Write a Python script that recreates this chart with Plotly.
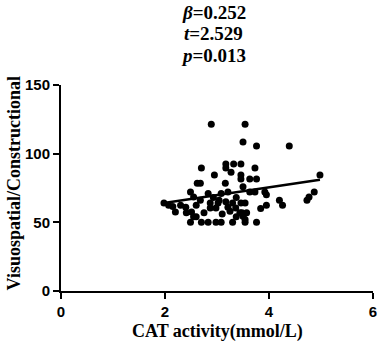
import numpy as np
import plotly.graph_objects as go

cat_activity = [2.89, 3.54, 3.50, 3.76, 4.39, 2.70, 3.17, 3.32, 3.46, 3.17,
                3.27, 3.46, 3.73, 2.95, 3.63, 3.76, 3.16, 2.68, 2.62, 4.98,
                3.46, 3.50, 2.49, 2.55, 2.83, 3.08, 3.21, 2.93, 3.37, 3.63,
                3.73, 3.92, 3.95, 2.87, 3.02, 3.17, 3.21, 2.87, 2.98, 3.36,
                3.44, 2.83, 2.98, 3.08, 3.30, 3.54, 3.76, 2.49, 2.70, 3.37,
                3.50, 1.98, 2.07, 2.15, 2.20, 2.30, 2.40, 2.41, 2.51, 2.60,
                2.60, 2.68, 3.46, 3.54, 3.84, 3.95, 4.20, 4.26, 4.73, 4.77,
                4.87, 3.48, 3.54, 3.57, 2.55, 3.10, 3.25, 2.75, 3.04, 3.30]
visuo_score = [121.5, 121.5, 108.5, 105.5, 105.5, 89.5, 92.5, 92.5, 92.5, 89.5,
               86.5, 84.5, 89.5, 84.5, 81.5, 81.5, 78.5, 78.5, 78.5, 84.5,
               81.5, 76.0, 72.0, 68.5, 71.0, 71.0, 72.0, 68.0, 68.0, 72.0,
               72.0, 72.0, 70.0, 64.0, 64.0, 65.0, 61.0, 60.5, 60.5, 60.5,
               57.0, 50.0, 50.0, 50.0, 50.0, 50.0, 50.0, 50.0, 50.0, 54.0,
               54.5, 64.0, 62.5, 61.5, 57.5, 62.5, 61.0, 57.0, 57.5, 54.0,
               62.5, 66.0, 64.0, 64.0, 60.0, 62.5, 66.0, 62.5, 66.0, 68.5,
               72.0, 57.0, 52.0, 57.0, 54.0, 56.0, 58.0, 57.0, 66.0, 64.0]

# fitted regression line endpoints
fit_x = [1.98, 4.98]
fit_y = [64.0, 81.0]

x_ticks = [0, 2, 4, 6]
y_ticks = [0, 50, 100, 150]

stats_lines = ["<i>β</i>=0.252", "<i>t</i>=2.529", "<i>p</i>=0.013"]
x_title = "CAT activity(mmol/L)"
y_title = "Visuospatial/Constructional"

fig = go.Figure()
fig.add_trace(go.Scatter(x=cat_activity, y=visuo_score, mode="markers",
                         marker=dict(color="black", size=7), showlegend=False,
                         cliponaxis=False))
fig.add_trace(go.Scatter(x=fit_x, y=fit_y, mode="lines",
                         line=dict(color="black", width=2.5), showlegend=False))

axis_common = dict(showline=True, linecolor="black", linewidth=2,
                   ticks="outside", ticklen=6, tickwidth=2, tickcolor="black",
                   showgrid=False, zeroline=False, ticklabeloverflow="allow",
                   tickfont=dict(family="Liberation Sans", size=15, color="black", weight="bold"))

fig.update_layout(
    width=383, height=348,
    margin=dict(l=61, r=6, t=85, b=57),
    paper_bgcolor="white", plot_bgcolor="white",
    xaxis=dict(range=[0, 6], tickvals=x_ticks, ticktext=[str(v) for v in x_ticks],
               **axis_common),
    yaxis=dict(range=[0, 150], tickvals=y_ticks, ticktext=[str(v) for v in y_ticks],
               **axis_common),
)

title_font = dict(family="Liberation Serif", size=19, color="black", weight="bold")
axis_title_font = dict(family="Liberation Serif", size=18, color="black", weight="bold")

title_y = [1.354, 1.250, 1.145]
for txt, yy in zip(stats_lines, title_y):
    fig.add_annotation(text=txt, x=0.49, xref="paper", y=yy, yref="paper",
                       xanchor="center", yanchor="middle", showarrow=False,
                       font=title_font)

fig.add_annotation(text=x_title, x=0.5, xref="paper", y=-0.199, yref="paper",
                   xanchor="center", yanchor="middle", showarrow=False,
                   font=axis_title_font)
fig.add_annotation(text=y_title, x=-0.152, xref="paper", y=0.52, yref="paper",
                   xanchor="center", yanchor="middle", showarrow=False,
                   textangle=-90, font=axis_title_font)

fig.write_html("out.html", config={"displayModeBar": False},
               post_script="document.body.style.margin='0';document.body.style.overflow='hidden';")
